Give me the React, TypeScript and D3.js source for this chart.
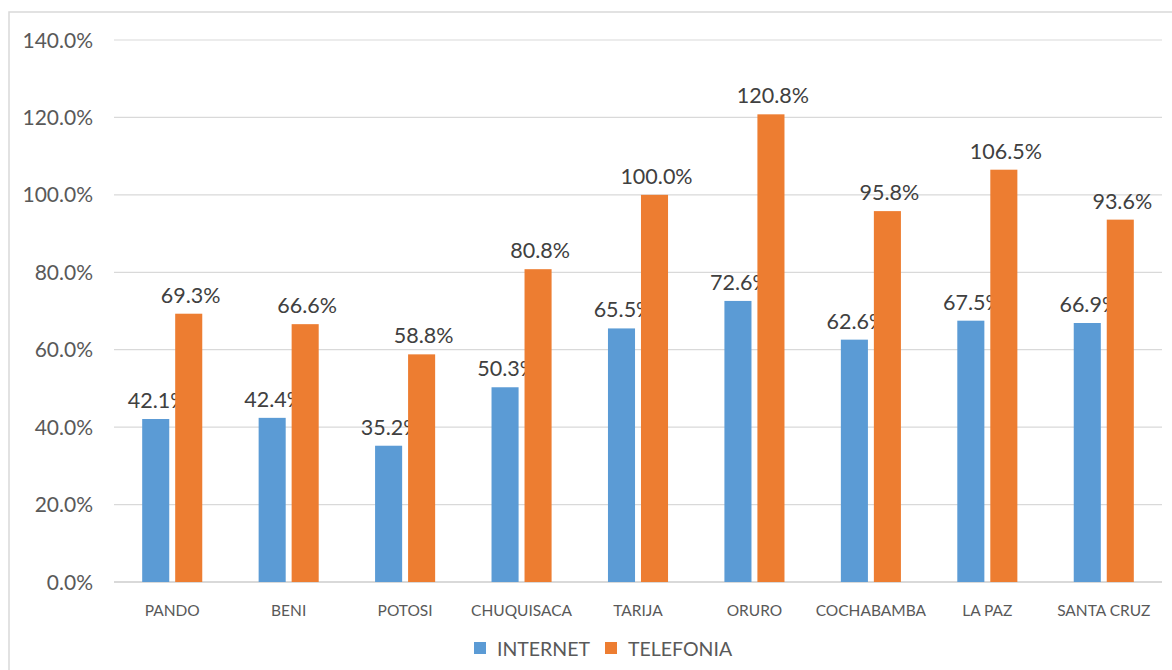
import React from "react";
import * as d3 from "d3";

const categories = ["PANDO", "BENI", "POTOSI", "CHUQUISACA", "TARIJA", "ORURO", "COCHABAMBA", "LA PAZ", "SANTA CRUZ"];
const seriesNames = ["INTERNET", "TELEFONIA"];
const internet = [42.1, 42.4, 35.2, 50.3, 65.5, 72.6, 62.6, 67.5, 66.9];
const telefonia = [69.3, 66.6, 58.8, 80.8, 100.0, 120.8, 95.8, 106.5, 93.6];
const yTicks = [0, 20, 40, 60, 80, 100, 120, 140];
const colors = ["#5B9BD5", "#ED7D31"];

export default function App() {
  const W = 1172, H = 670;
  const left = 114, right = 1162, top = 40, bottom = 582;
  const font = "Lato, 'Open Sans', sans-serif";
  const x0 = d3.scaleBand<string>().domain(categories).range([left, right]).padding(0);
  const x1 = d3.scaleBand<string>().domain(seriesNames).range([0, x0.bandwidth()]).paddingInner(0.18).paddingOuter(0.854);
  const y = d3.scaleLinear().domain([0, 140]).range([bottom, top]);
  const values = [internet, telefonia];
  const fmt = (v: number) => v.toFixed(1) + "%";

  return (
    <svg width={W} height={H} style={{ position: "fixed", left: 0, top: 0, background: "#fff" }} fontFamily={font}>
      <rect x={9} y={12} width={1200} height={700} fill="#fff" stroke="#D9D9D9" strokeWidth={1.5} />
      {yTicks.map((t) => (
        <g key={t}>
          <line x1={left} x2={right} y1={y(t)} y2={y(t)} stroke="#D9D9D9" strokeWidth={t === 0 ? 2 : 1.2} />
          <text x={93} y={y(t) + 7.5} textAnchor="end" fontSize={21} fill="#595959">{fmt(t)}</text>
        </g>
      ))}
      {categories.map((c, i) => (
        <g key={c} transform={`translate(${x0(c)},0)`}>
          {seriesNames.map((s, j) => {
            const v = values[j][i];
            const bx = x1(s)!;
            return (
              <g key={s}>
                <rect x={bx} y={y(v)} width={x1.bandwidth()} height={y(0) - y(v)} fill={colors[j]} />
                <text x={bx + x1.bandwidth() / 2 + 2} y={y(v) - 11} textAnchor="middle" fontSize={21.5} fill="#404040">{fmt(v)}</text>
              </g>
            );
          })}
          <text x={x0.bandwidth() / 2} y={616} textAnchor="middle" fontSize={15.5} fill="#595959">{c}</text>
        </g>
      ))}
      {seriesNames.map((s, j) => {
        const lx = [474, 605][j];
        return (
          <g key={s}>
            <rect x={lx} y={642} width={12} height={12} fill={colors[j]} />
            <text x={lx + 23} y={656} fontSize={19.5} fill="#595959">{s}</text>
          </g>
        );
      })}
    </svg>
  );
}
